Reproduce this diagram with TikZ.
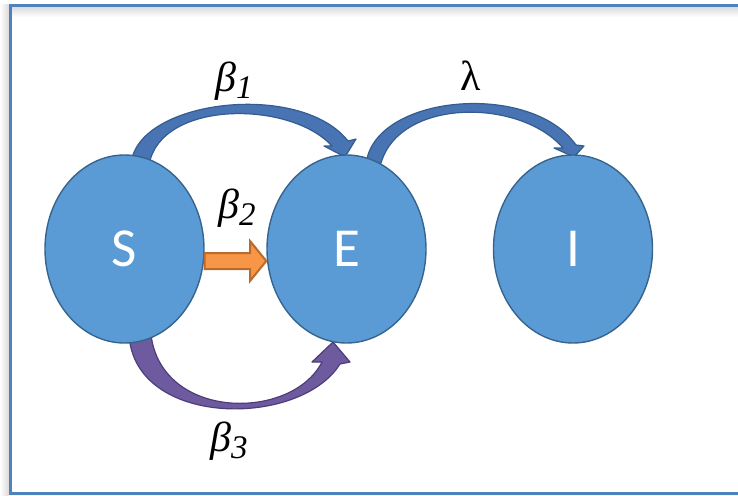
\documentclass[tikz,border=0pt]{standalone}
\usepackage{fontspec}
\setmainfont{Liberation Serif}
\newfontfamily\lblfont{Carlito}
\usetikzlibrary{shapes.geometric}
\definecolor{ellfill}{HTML}{5B9BD5}
\definecolor{elldraw}{HTML}{36648F}
\definecolor{bluearr}{HTML}{4874B4}
\definecolor{bluearrd}{HTML}{345C8E}
\definecolor{purp}{HTML}{6E5A9E}
\definecolor{purpd}{HTML}{4E3D78}
\definecolor{orng}{HTML}{F79646}
\definecolor{orngd}{HTML}{B96A2C}
\definecolor{framec}{HTML}{4F81BD}
\tikzset{
  ell/.style={ellipse, draw=elldraw, line width=1.4pt, fill=ellfill,
    minimum width=159pt, minimum height=188pt, inner sep=0pt,
    text=white, font=\lblfont\fontsize{55}{55}\selectfont},
  rate/.style={inner sep=0pt, anchor=base west, font=\fontsize{42}{42}\selectfont},
  bluecurve/.style={fill=bluearr, draw=bluearrd, line width=1.2pt, line join=round},
  purpcurve/.style={fill=purp, draw=purpd, line width=1.2pt, line join=round},
  orngblock/.style={fill=orng, draw=orngd, line width=2pt, line join=miter}
}
\newcommand{\rateb}[1]{\itshape β\raisebox{-7pt}{\fontsize{33}{33}\selectfont #1}}
\begin{document}
\begin{tikzpicture}[x=1pt,y=-1pt]
\useasboundingbox (0,0) rectangle (738,495);
\fill[white] (0,0) rectangle (738,495);
% frame with faint shadow
\shade[top color=black!14, bottom color=white] (11.5,7) rectangle (738,17);
\shade[left color=white, right color=black!14] (0,5) rectangle (8.5,495);
\draw[framec, line width=3pt] (738,5.5) -- (10,5.5) -- (10,493) -- (738,493);
% curved arrows (drawn under the ellipses)
% beta_1 : S -> E
\draw[bluecurve] (131,165) .. controls (135,100) and (300,80) .. (348,141)
  -- (356,139) -- (345,157) -- (324,146) -- (332,146)
  .. controls (290,100) and (160,100) .. (149,165) -- cycle;
% lambda : E -> I
\draw[bluecurve] (366,165) .. controls (372,95) and (530,80) .. (576,145)
  -- (584,146) -- (574,157) -- (554,148) -- (563,148)
  .. controls (520,98) and (400,98) .. (381,163) -- cycle;
% beta_3 : S -> E
\draw[purpcurve] (129,335) .. controls (135,428) and (300,428) .. (340,364)
  -- (350,362) -- (333,342) -- (312,362) -- (322,362)
  .. controls (292,421) and (162,421) .. (151,335) -- cycle;
% states
\node[ell] (S) at (124.5,249) {S};
\node[ell] (E) at (346.5,249) {E};
\node[ell] (I) at (573,249) {I};
% beta_2 : S -> E block arrow
\draw[orngblock] (S.east |- 0,253) -- (250,253) -- (250,241) -- (E.west |- 0,261)
  -- (250,281) -- (250,269) -- (S.east |- 0,269) -- cycle;
% labels
\node[rate] (b1) at (215,91) {\rateb{1}};
\node[rate] (b2) at (218,218) {\rateb{2}};
\node[rate] (b3) at (210,451) {\rateb{3}};
\node[rate] (lam) at (460,90) {λ};
\end{tikzpicture}
\end{document}
